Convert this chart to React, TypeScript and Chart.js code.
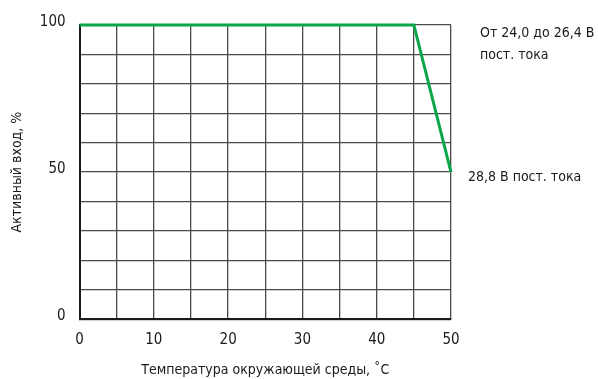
import React, { useEffect, useRef } from "react";
import { Chart, registerables } from "chart.js";

Chart.register(...registerables);

const temps = [0, 45, 50];
const activeInput = [100, 100, 50];
const xTicks = [0, 10, 20, 30, 40, 50];
const yTicks = [0, 50, 100];
const topLabel = ["От 24,0 до 26,4 В", "пост. тока"];
const bottomLabel = ["28,8 В пост. тока"];
const xTitle = "Температура окружающей среды, ˚C";
const yTitle = "Активный вход, %";

const FONT = "'Liberation Sans Narrow', 'DejaVu Sans Condensed', 'Arial Narrow', sans-serif";

const sideLabels = {
  id: "sideLabels",
  afterDraw(chart: any) {
    const { ctx, scales } = chart;
    const xs = scales.x;
    const ys = scales.y;
    ctx.save();
    ctx.fillStyle = "#1a1a1a";
    ctx.font = `14px ${FONT}`;
    ctx.textBaseline = "middle";
    ctx.textAlign = "left";
    const xEnd = xs.getPixelForValue(temps[temps.length - 1]);
    const yTop = ys.getPixelForValue(activeInput[0]);
    topLabel.forEach((t, i) => ctx.fillText(t, xEnd + 29, yTop + 8 + i * 22));
    const yB = ys.getPixelForValue(activeInput[activeInput.length - 1]);
    bottomLabel.forEach((t, i) => ctx.fillText(t, xEnd + 17, yB + 5 + i * 22));
    ctx.restore();
  },
};

export default function App() {
  const ref = useRef<HTMLCanvasElement>(null);
  useEffect(() => {
    document.body.style.margin = "0";
    const c = new Chart(ref.current!, {
      type: "line",
      data: {
        datasets: [
          {
            data: temps.map((t, i) => ({ x: t, y: activeInput[i] })),
            borderColor: "#0aa64a",
            borderWidth: 3,
            pointRadius: 0,
            tension: 0,
            clip: false,
          },
        ],
      },
      options: {
        animation: false,
        responsive: false,
        layout: { padding: { top: 25, right: 147, left: 9, bottom: 0 } },
        plugins: { legend: { display: false }, tooltip: { enabled: false } },
        scales: {
          x: {
            type: "linear",
            min: 0,
            max: 50,
            ticks: {
              stepSize: 5,
              padding: 12,
              color: "#1a1a1a",
              font: { family: FONT, size: 15 },
              maxRotation: 0,
              callback: (v: any) => (xTicks.includes(v) ? String(v) : ""),
            },
            grid: { color: "#4a4a4a", lineWidth: 1.3, drawTicks: false },
            border: { color: "#1a1a1a", width: 2 },
            title: {
              display: true,
              text: xTitle,
              color: "#1a1a1a",
              font: { family: FONT, size: 14 },
              padding: { top: 1, bottom: 0 },
            },
          },
          y: {
            min: 0,
            max: 100,
            ticks: {
              stepSize: 10,
              padding: 14,
              labelOffset: -3,
              color: "#1a1a1a",
              font: { family: FONT, size: 15 },
              callback: (v: any) => (yTicks.includes(v) ? String(v) : ""),
            },
            grid: { color: "#4a4a4a", lineWidth: 1.3, drawTicks: false },
            border: { color: "#1a1a1a", width: 2 },
            title: {
              display: true,
              text: yTitle,
              color: "#1a1a1a",
              font: { family: FONT, size: 14 },
              padding: { top: 0, bottom: 0 },
            },
          },
        },
      },
      plugins: [sideLabels],
    });
    return () => c.destroy();
  }, []);
  return (
    <div style={{ width: 598, height: 379 }}>
      <canvas ref={ref} width={598} height={379} />
    </div>
  );
}
